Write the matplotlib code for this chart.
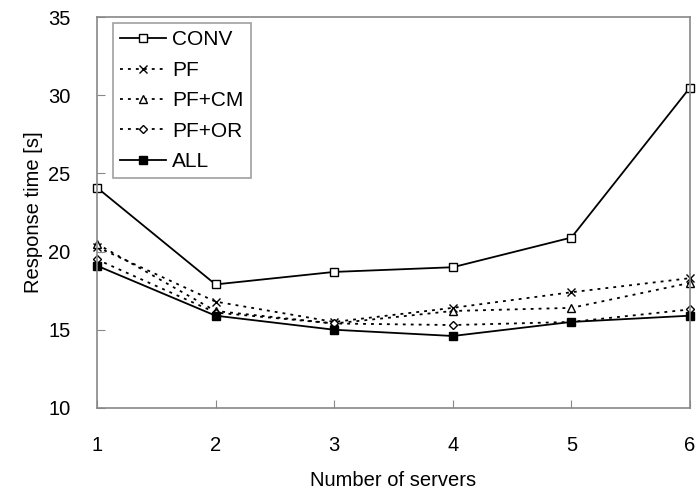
import numpy as np
import matplotlib
matplotlib.use("Agg")
import matplotlib.pyplot as plt

plt.rcParams['font.family'] = ['Liberation Sans', 'DejaVu Sans']

servers = [1, 2, 3, 4, 5, 6]
conv = [24.1, 17.9, 18.7, 19.0, 20.9, 30.5]
pf = [20.3, 16.8, 15.5, 16.4, 17.4, 18.3]
pf_cm = [20.5, 16.2, 15.4, 16.2, 16.4, 18.0]
pf_or = [19.5, 16.1, 15.4, 15.3, 15.5, 16.3]
all_ = [19.1, 15.9, 15.0, 14.6, 15.5, 15.9]

names = ["CONV", "PF", "PF+CM", "PF+OR", "ALL"]
series = [conv, pf, pf_cm, pf_or, all_]
markers = ["s", "x", "^", "D", "s"]
styles = ["-", (0, (1.6, 2.8)), (0, (1.6, 2.8)), (0, (1.6, 2.8)), "-"]
faces = ["white", "black", "white", "white", "black"]
sizes = [5.5, 5.5, 5.5, 4.0, 6.0]

fig = plt.figure(figsize=(6.97, 4.92), dpi=100)
ax = fig.add_axes([0.139, 0.171, 0.851, 0.794])

for name, y, m, ls, fc, ms in zip(names, series, markers, styles, faces, sizes):
    ax.plot(servers, y, color="black", lw=1.3, linestyle=ls, marker=m,
            markersize=ms, markerfacecolor=fc, markeredgecolor="black",
            markeredgewidth=1.0, label=name, clip_on=False)

ax.set_xlim(1, 6)
ax.set_ylim(10, 35)
ax.set_xticks(servers)
ax.set_yticks([10, 15, 20, 25, 30, 35])
ax.tick_params(direction="in", length=6, color="#888888", labelsize=14.5)
ax.tick_params(axis="x", pad=20)
ax.tick_params(axis="y", pad=19)
for s in ax.spines.values():
    s.set_color("#888888")
    s.set_linewidth(1.2)

ax.set_xlabel("Number of servers", fontsize=14.5, labelpad=12)
ax.set_ylabel("Response time [s]", fontsize=14.5, labelpad=4)

leg = ax.legend(loc="upper left", bbox_to_anchor=(0.027, 0.985), borderaxespad=0,
                fontsize=15, frameon=True, fancybox=False, handlelength=2.2,
                handletextpad=0.3, labelspacing=0.55, borderpad=0.35)
leg.get_frame().set_edgecolor("#888888")
leg.get_frame().set_linewidth(1.2)

fig.savefig("out.png", dpi=100)
